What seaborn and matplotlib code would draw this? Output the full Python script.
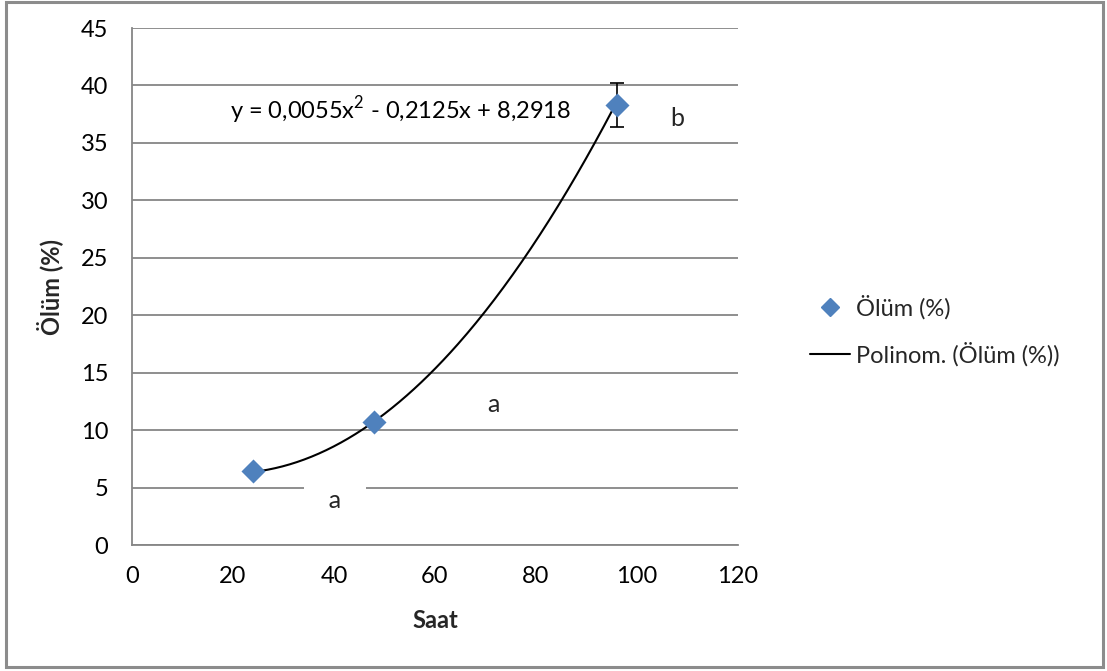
import numpy as np
import pandas as pd
import matplotlib
matplotlib.use("Agg")
import matplotlib.pyplot as plt
import seaborn as sns
from matplotlib.lines import Line2D
from matplotlib.patches import Rectangle

# ---- data ----
saat = [24, 48, 96]
olum = [6.4, 10.7, 38.3]
olum_err = [0.2, 0.3, 1.9]
poly_coefs = [0.0055, -0.2125, 8.2918]
x_ticks = [0, 20, 40, 60, 80, 100, 120]
y_ticks = [0, 5, 10, 15, 20, 25, 30, 35, 40, 45]
letters = ["a", "a", "b"]
letter_pos_x = [40.2, 71.5, 108]
letter_pos_y = [3.9, 12.2, 37.1]

sns.set_theme(style="white")
plt.rcParams['font.family'] = ['Lato', 'DejaVu Sans']
plt.rcParams['mathtext.fontset'] = 'custom'
plt.rcParams['mathtext.rm'] = 'Lato'

FS = 17
fig = plt.figure(figsize=(11.07, 6.71), dpi=100)
ax = fig.add_axes([132/1107, 1-545/671, (738-132)/1107, (545-28)/671])

df = pd.DataFrame({"Saat": saat, "Olum": olum})

# trend line
xs = np.linspace(min(saat), max(saat), 200)
ys = np.polyval(poly_coefs, xs)
ax.plot(xs, ys, color="black", lw=1.5, zorder=3)

# error bars
ax.errorbar(saat, olum, yerr=olum_err, fmt="none", ecolor="black",
            elinewidth=1.2, capsize=5, capthick=1.2, zorder=2)

sns.scatterplot(data=df, x="Saat", y="Olum", marker="D", s=150,
                color="#4F81BD", edgecolor="#4F81BD", linewidth=0, ax=ax, zorder=4)

ax.set_xlim(0, 120)
ax.set_ylim(0, 45)
ax.set_xticks(x_ticks)
ax.set_yticks(y_ticks)
ax.tick_params(axis="both", length=0, labelsize=FS, colors="black")
ax.tick_params(axis="y", pad=17)
ax.tick_params(axis="x", pad=15)
ax.grid(axis="y", color="#868686", lw=1.3)
ax.set_axisbelow(True)
for s in ["top", "right"]:
    ax.spines[s].set_visible(False)
for s in ["left", "bottom"]:
    ax.spines[s].set_color("#868686")
    ax.spines[s].set_linewidth(1.3)

ax.set_xlabel("Saat", fontsize=FS, fontweight="bold", labelpad=16)
ax.set_ylabel("Ölüm (%)", fontsize=FS, fontweight="bold", labelpad=13)

# equation
ax.text(19.5, 37.9, "y = 0,0055x$^{2}$ - 0,2125x + 8,2918", fontsize=FS,
        ha="left", va="center", color="black")

# letters
for i, (t, lx, ly) in enumerate(zip(letters, letter_pos_x, letter_pos_y)):
    if i == 0:
        ax.text(lx, ly, "  " + t + "  ", fontsize=FS + 1, ha="center",
                va="center", zorder=5,
                bbox=dict(facecolor="white", edgecolor="none", pad=9))
    else:
        ax.text(lx, ly, t, fontsize=FS + 1, ha="center", va="center", zorder=5)

# legend
handles = [
    Line2D([], [], marker="D", color="#4F81BD", lw=0, markersize=9),
    Line2D([], [], color="black", lw=1.5),
]
fig.legend(handles, ["Ölüm (%)", "Polinom. (Ölüm (%))"],
           loc="upper left", bbox_to_anchor=(810/1107, 1-295/671),
           frameon=False, fontsize=FS, handlelength=1.7, handletextpad=0.25,
           labelspacing=0.95, borderpad=0, borderaxespad=0)

# outer frame
fig.patches.append(Rectangle((6/1107, 4/671), (1103-6)/1107, (669-4)/671,
                             transform=fig.transFigure, fill=False,
                             edgecolor="#8c8c8c", lw=2.2))

fig.savefig("out.png", dpi=100)
